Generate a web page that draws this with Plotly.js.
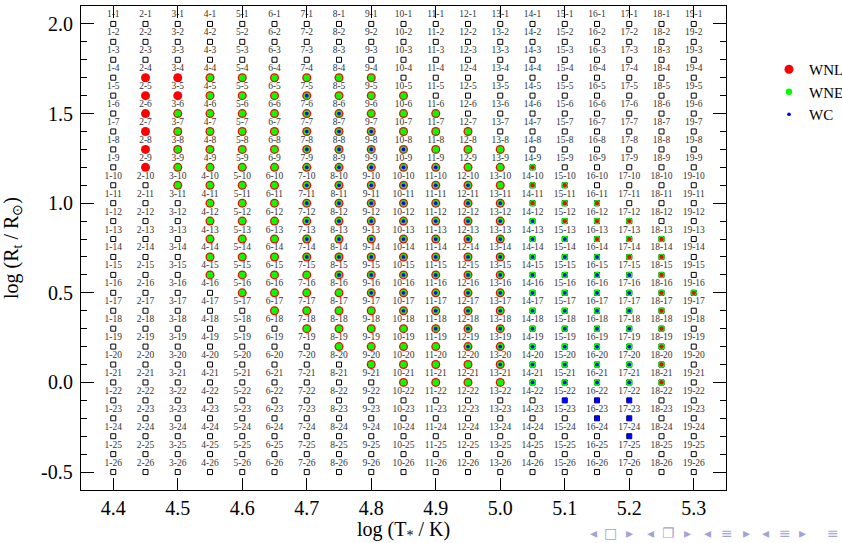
<!DOCTYPE html>
<html>
<head>
<meta charset="utf-8">
<script src="https://cdn.plot.ly/plotly-3.0.1.min.js"></script>
<style>html,body{margin:0;padding:0;background:#fff;}#chart{width:842px;height:543px;}</style>
</head>
<body>
<div id="chart"></div>
<script>
// Grid axes values (model columns = log T*, model rows = log R_t)
const logT = [4.40, 4.45, 4.50, 4.55, 4.60, 4.65, 4.70, 4.75, 4.80, 4.85,
              4.90, 4.95, 5.00, 5.05, 5.10, 5.15, 5.20, 5.25, 5.30];
const logR = [2.0, 1.9, 1.8, 1.7, 1.6, 1.5, 1.4, 1.3, 1.2, 1.1, 1.0, 0.9, 0.8,
              0.7, 0.6, 0.5, 0.4, 0.3, 0.2, 0.1, 0.0, -0.1, -0.2, -0.3, -0.4, -0.5];

// Classification per model (row j, column i):
// '.' none, 'R' WNL, 'N' WNL+WNE, 'A' WNL+WNE+WC,
// 'r' WNE + (small) WNL, 'b' WNE+WC, 'Q' WC only
const classGrid = [
  "...................",
  "...................",
  "...................",
  ".RRNNNNNN..........",
  ".RRNNNANNN.........",
  ".RNNNNAANNN........",
  ".RNNNNAAANNN.......",
  ".RNNNNAAAANNN......",
  ".RNNNNAAAAANNr.....",
  "..NNNNAAAAAANrr....",
  "...NNNAAAAAAArrr...",
  "...NNNAAAAAAAbrrr..",
  "...NNNAAAAAAAbbrrr.",
  "...NNNAAAAAAAbbbrr.",
  "...NNNNAAAAAAbbbbr.",
  "....NNNNAAAAAbbbbrr",
  ".....NNNNAAAAbbbbr.",
  "......NNNNAAAbbbbr.",
  ".......NNNNAAbbbbr.",
  "........NNNNAbbbbr.",
  ".........NNNNbbbbr.",
  "..............QQQ..",
  "...............QQ..",
  "................Q..",
  "...................",
  "..................."
];

const seriesNames = ["WNL", "WNE", "WC"];
const xTickVals = [4.4, 4.5, 4.6, 4.7, 4.8, 4.9, 5.0, 5.1, 5.2, 5.3];
const xTickText = ["4.4", "4.5", "4.6", "4.7", "4.8", "4.9", "5.0", "5.1", "5.2", "5.3"];
const yTickVals = [2.0, 1.5, 1.0, 0.5, 0.0, -0.5];
const yTickText = ["2.0", "1.5", "1.0", "0.5", "0.0", "-0.5"];

// ---- build point lists ----
const all = {x: [], y: [], t: []};
const wnlBig = {x: [], y: []}, wne = {x: [], y: []}, wnlSmall = {x: [], y: []},
      wc = {x: [], y: []}, wcSq = {x: [], y: []};
classGrid.forEach((row, j) => {
  for (let i = 0; i < row.length; i++) {
    const c = row[i], x = logT[i], y = logR[j];
    all.x.push(x); all.y.push(y); all.t.push((i + 1) + "-" + (j + 1));
    if ("RNA".includes(c)) { wnlBig.x.push(x); wnlBig.y.push(y); }
    if ("NArb".includes(c)) { wne.x.push(x); wne.y.push(y); }
    if (c === "r") { wnlSmall.x.push(x); wnlSmall.y.push(y); }
    if ("Ab".includes(c)) { wc.x.push(x); wc.y.push(y); }
    if (c === "Q") { wcSq.x.push(x); wcSq.y.push(y); }
  }
});

const SERIF = "Liberation Serif, Times New Roman, serif";
const RED = "#ff0000", GREEN = "#00ff00", BLUE = "#0000ff";

const traces = [
  {x: all.x, y: all.y, text: all.t, type: "scatter", mode: "markers+text",
   textposition: "top center", textfont: {family: SERIF, size: 9.5, color: "#333"},
   marker: {symbol: "square-open", size: 5, color: "#000", line: {width: 1, color: "#000"}},
   showlegend: false, hoverinfo: "skip", cliponaxis: false},
  {x: wnlBig.x, y: wnlBig.y, type: "scatter", mode: "markers", name: seriesNames[0],
   marker: {symbol: "circle", size: 9, color: RED, line: {width: 0}}},
  {x: wne.x, y: wne.y, type: "scatter", mode: "markers", name: seriesNames[1],
   marker: {symbol: "circle", size: 6.5, color: GREEN, line: {width: 0}}},
  {x: wnlSmall.x, y: wnlSmall.y, type: "scatter", mode: "markers", name: seriesNames[0],
   showlegend: false, marker: {symbol: "circle", size: 4.3, color: RED, line: {width: 0}}},
  {x: wc.x, y: wc.y, type: "scatter", mode: "markers", name: seriesNames[2],
   marker: {symbol: "circle", size: 3.7, color: BLUE, line: {width: 0}}},
  {x: wcSq.x, y: wcSq.y, type: "scatter", mode: "markers", name: seriesNames[2],
   showlegend: false, marker: {symbol: "square", size: 5, color: BLUE, line: {width: 0}}}
];

const L = 81, W = 645, T = 6, H = 484;

// y tick labels placed close to the axis line (as in the reference)
const annotations = yTickVals.map((v, k) => ({
  text: yTickText[k], xref: "paper", yref: "y", x: -6 / W, y: v,
  xanchor: "right", yanchor: "middle", showarrow: false,
  font: {family: SERIF, size: 20, color: "#000"}
}));

// beamer navigation symbols (decoration)
const navSyms = ["◂", "□", "▸", "◂", "❐", "▸", "◂", "≡", "▸", "◂", "≡", "▸", "≡"];
const navPx = [593, 610, 629, 650, 668, 687, 707, 727, 746, 765, 785, 803, 833];
navSyms.forEach((s, k) => annotations.push({
  text: s, xref: "paper", yref: "paper", x: (navPx[k] - L) / W, y: 1 - (533 - T) / H,
  xanchor: "center", yanchor: "middle", showarrow: false,
  font: {family: "DejaVu Sans", size: 14, color: "#a3a3d9"}
}));

const axisCommon = {
  showgrid: false, zeroline: false, showline: true, linecolor: "#000", linewidth: 1,
  mirror: "ticks", ticks: "inside", tickcolor: "#000", tickwidth: 1,
  tickfont: {family: SERIF, size: 20, color: "#000"}, tickmode: "array"
};

const layout = {
  width: 842, height: 543,
  margin: {l: L, r: 842 - L - W, t: T, b: 543 - T - H, autoexpand: false},
  paper_bgcolor: "#fff", plot_bgcolor: "#fff",
  font: {family: SERIF, color: "#000"},
  xaxis: Object.assign({}, axisCommon, {
    range: [4.35, 5.35], tickvals: xTickVals, ticktext: xTickText, ticklen: 12,
    title: {text: "log (T<sub>*</sub> / K)", font: {family: SERIF, size: 20, color: "#000"}, standoff: 6}
  }),
  yaxis: Object.assign({}, axisCommon, {
    range: [-0.6, 2.1], tickvals: yTickVals, ticktext: yTickText, ticklen: 13,
    showticklabels: false,
    minor: {tickmode: "linear", tick0: 0, dtick: 0.1, ticks: "inside", ticklen: 6, tickcolor: "#000", tickwidth: 1},
    title: {text: "log (R<sub>t</sub> / R<sub>⊙</sub>)", font: {family: SERIF, size: 20, color: "#000"}, standoff: 58}
  }),
  showlegend: true,
  legend: {xref: "container", yref: "container", x: 769 / 842, y: 1 - 53 / 543,
           xanchor: "left", yanchor: "top",
           font: {family: SERIF, size: 15, color: "#000"}, bgcolor: "rgba(0,0,0,0)",
           itemsizing: "trace", tracegroupgap: 0},
  annotations: annotations
};

Plotly.newPlot("chart", traces, layout, {displayModeBar: false, staticPlot: true});
</script>
</body>
</html>
